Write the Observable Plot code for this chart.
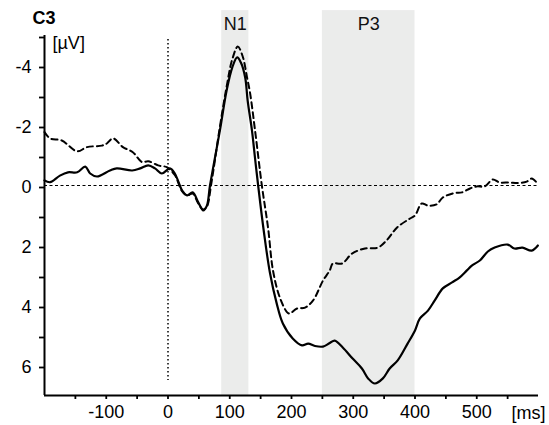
<!DOCTYPE html>
<html>
<head>
<meta charset="utf-8">
<script src="https://cdn.jsdelivr.net/npm/d3@7"></script>
<script src="https://cdn.jsdelivr.net/npm/@observablehq/plot@0.6"></script>
<style>
  html, body { margin: 0; padding: 0; background: #fff; }
</style>
</head>
<body>
<div id="chart"></div>
<script>
// ---- data ----
const solidMs = [-200,-191,-175,-162,-147,-134,-126,-115,-94,-83,-58,-45,-32,-21,-10,3,11,23,31,40,49,57,63,68,84,95,104,112,118,125,129,136,141,146,155,165,176,186,202,217,227,238,251,262,270,283,299,314,324,335,348,359,372,388,400,408,421,432,445,460,472,484,492,505,518,529,550,561,574,589,599];
const solidUv = [-0.17,-0.11,-0.33,-0.44,-0.44,-0.63,-0.4,-0.3,-0.5,-0.57,-0.5,-0.57,-0.67,-0.57,-0.4,-0.57,-0.4,0.17,0.33,0.23,0.56,0.83,0.67,0,-1.83,-3.17,-3.93,-4.27,-4.1,-3.6,-2.83,-1.83,-0.9,0,1.5,2.9,3.93,4.6,5.1,5.33,5.27,5.35,5.37,5.25,5.17,5.4,5.77,6.1,6.43,6.6,6.43,6.1,5.83,5.27,4.83,4.43,4.17,3.83,3.43,3.23,3.07,2.83,2.67,2.5,2.2,2.07,1.97,2.1,2.07,2.17,2.0];

const dashedMs = [-200,-191,-172,-147,-131,-107,-99,-89,-73,-57,-42,-32,-16,-2,11,23,31,40,49,57,63,70,84,95,104,113,121,128,133,141,152,162,170,181,193,197,209,222,235,251,262,267,282,298,319,340,354,371,392,400,411,421,435,445,464,476,489,500,513,526,537,553,566,581,589,597];
const dashedUv = [-1.78,-1.57,-1.5,-1.14,-1.28,-1.33,-1.4,-1.57,-1.28,-1.11,-0.78,-0.81,-0.67,-0.61,-0.35,0.2,0.33,0.27,0.6,0.8,0.7,-0.05,-1.95,-3.3,-4.2,-4.63,-4.3,-3.6,-3.07,-1.83,0,1.4,2.83,3.73,4.23,4.27,4.1,4.07,3.83,3.17,2.83,2.6,2.6,2.27,2.1,2.07,1.83,1.4,1.1,1.0,0.6,0.67,0.63,0.4,0.25,0.23,0.1,0.03,0.03,-0.2,-0.1,-0.1,-0.08,-0.13,-0.23,-0.1];

const windowNames = ["N1", "P3"];
const windowStart = [87, 250];
const windowEnd = [131, 400];

const xTicks = [-150,-100,-50,0,50,100,150,200,250,300,350,400,450,500,550];
const yTicks = [-5,-4,-3,-2,-1,0,1,2,3,4,5,6];

// ---- build tables ----
const solid = solidMs.map((t, i) => ({t, v: solidUv[i]}));
const dashed = dashedMs.map((t, i) => ({t, v: dashedUv[i]}));
const windows = windowNames.map((name, i) => ({name, x1: windowStart[i], x2: windowEnd[i], xm: (windowStart[i] + windowEnd[i]) / 2}));

const chart = Plot.plot({
  width: 549,
  height: 425,
  marginLeft: 44,
  marginRight: 11,
  marginTop: 35,
  marginBottom: 30,
  style: {fontFamily: "'Liberation Sans', Arial, Helvetica, sans-serif", fontSize: "18px", color: "#000", background: "#fff", overflow: "visible"},
  x: {domain: [-200, 600]},
  y: {domain: [-5, 7], reverse: true},
  marks: [
    Plot.rect(windows, {x1: "x1", x2: "x2", y1: -5.83, y2: 7, fill: "#ebeceb"}),
    Plot.text(windows, {x: "xm", y: -5.36, text: "name", fontSize: 18, fill: "#111"}),
    Plot.ruleY([0], {x1: -200, x2: 600, stroke: "#000", strokeWidth: 1.2, strokeDasharray: "3,2.5"}),
    Plot.ruleX([0], {y1: -4.87, y2: 6.5, stroke: "#000", strokeWidth: 1.5, strokeDasharray: "1.5,2.5"}),
    Plot.line(dashed, {x: "t", y: "v", curve: "catmull-rom", stroke: "#000", strokeWidth: 2, strokeDasharray: "6,4"}),
    Plot.line(solid, {x: "t", y: "v", curve: "catmull-rom", stroke: "#000", strokeWidth: 2.2}),
    Plot.axisX({ticks: xTicks, tickSize: 4, tickPadding: 6, tickFormat: d => d % 100 === 0 ? String(d) : "", fontSize: 18, strokeWidth: 1.8, label: null}),
    Plot.axisY({ticks: yTicks, tickSize: 5, tickPadding: 8, dy: 2, tickFormat: d => d % 2 === 0 ? String(d) : "", fontSize: 18, strokeWidth: 1.8, label: null}),
    Plot.ruleX([-200], {y1: -5, y2: 7, stroke: "#000", strokeWidth: 2}),
    Plot.ruleY([7], {x1: -200, x2: 600, stroke: "#000", strokeWidth: 2}),
    Plot.text(["C3"], {frameAnchor: "top-left", dx: -12, dy: -24, fontWeight: "bold", fontSize: 18, textAnchor: "start"}),
    Plot.text(["[µV]"], {frameAnchor: "top-left", dx: 8, dy: 1, fontSize: 18, textAnchor: "start"}),
    Plot.text(["[ms]"], {frameAnchor: "bottom-right", dx: 7, dy: 23, fontSize: 18, textAnchor: "end"})
  ]
});
document.getElementById("chart").appendChild(chart);
</script>
</body>
</html>
